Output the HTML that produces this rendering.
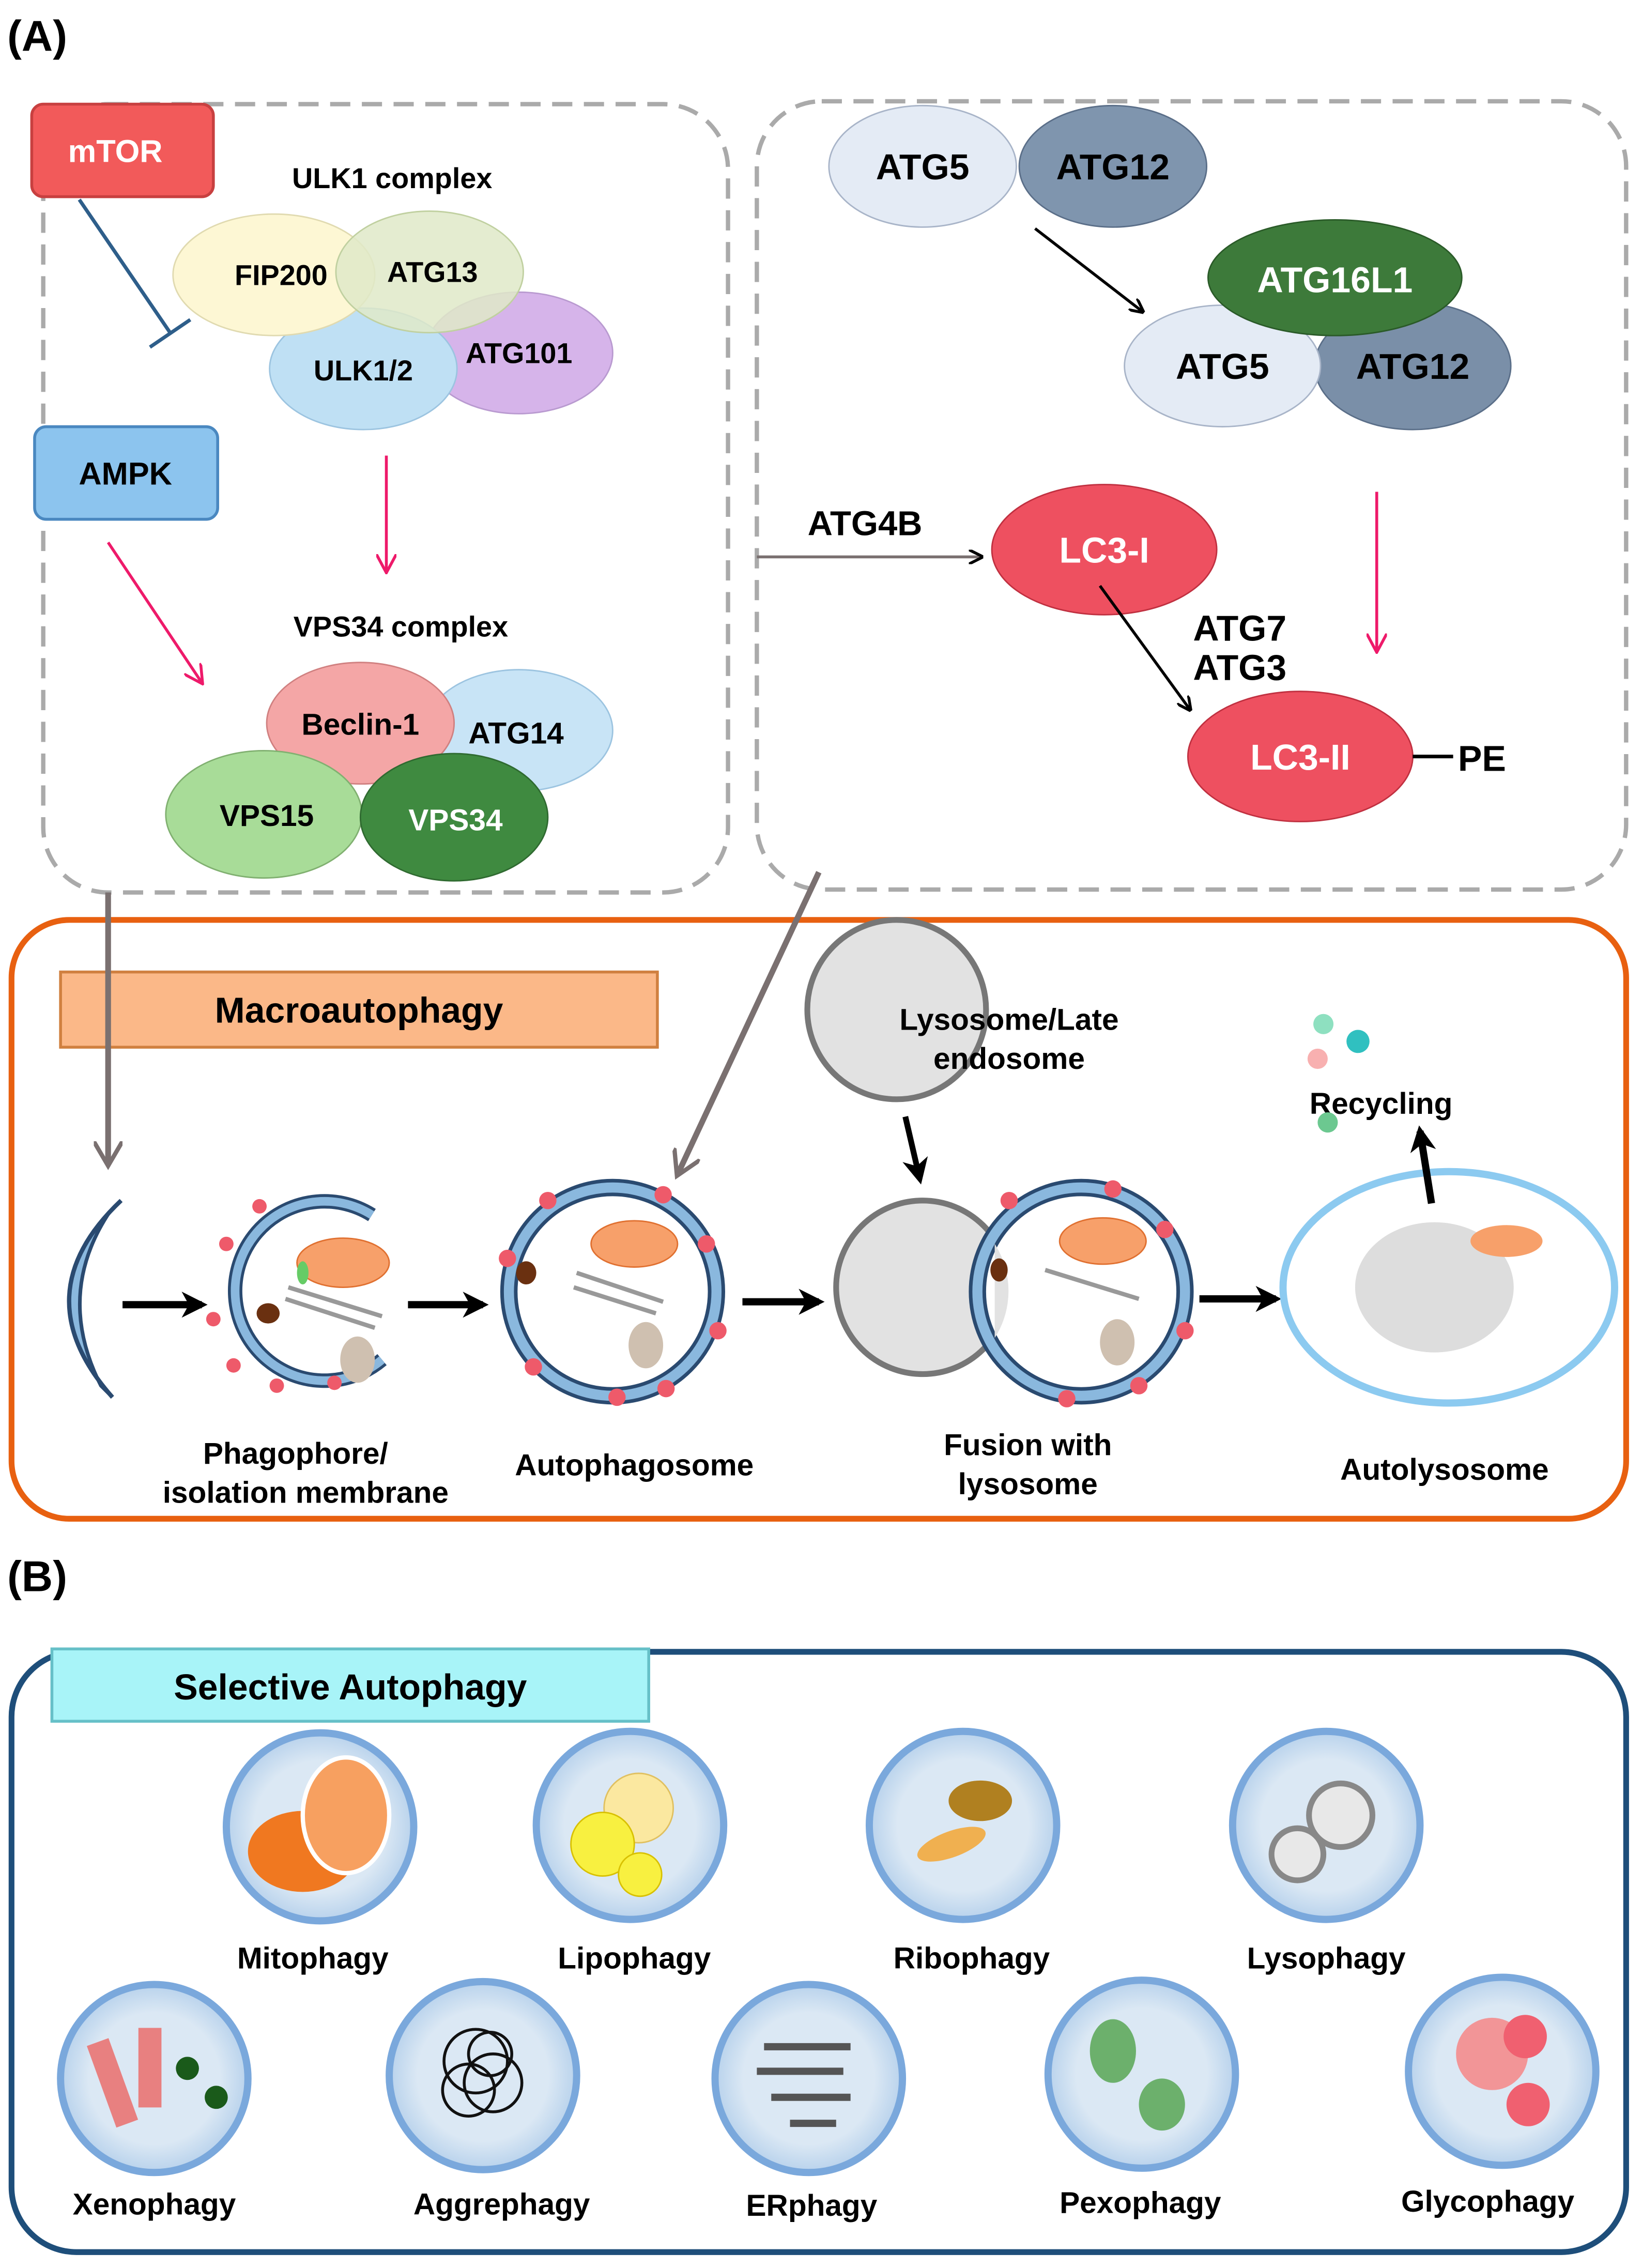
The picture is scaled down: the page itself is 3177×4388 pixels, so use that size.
<!DOCTYPE html>
<html><head><meta charset="utf-8"><style>
html,body{margin:0;padding:0;background:#fff}
svg{display:block}
text{font-family:"Liberation Sans",sans-serif;font-weight:bold}
</style></head><body>
<svg width="3177" height="4388" viewBox="0 0 1139 1568" preserveAspectRatio="none" xmlns="http://www.w3.org/2000/svg">
<defs>
<marker id="ab" markerWidth="10" markerHeight="10" refX="8" refY="5" orient="auto" markerUnits="userSpaceOnUse"><path d="M0,0 L10,5 L0,10" fill="none" stroke="#000" stroke-width="2"/></marker>
<marker id="ap" markerWidth="14" markerHeight="14" refX="12" refY="7" orient="auto" markerUnits="userSpaceOnUse"><path d="M0,0 L13,7 L0,14" fill="none" stroke="#ee1a6a" stroke-width="2"/></marker>
<marker id="ag" markerWidth="20" markerHeight="20" refX="16" refY="10" orient="auto" markerUnits="userSpaceOnUse"><path d="M0,0 L17,10 L0,20" fill="none" stroke="#7a7070" stroke-width="3"/></marker>
<marker id="ak" markerWidth="20" markerHeight="20" refX="14" refY="10" orient="auto" markerUnits="userSpaceOnUse"><path d="M0,1 L18,10 L0,19 L5,10 Z" fill="#000"/></marker>
<radialGradient id="cg" cx="50%" cy="50%" r="50%"><stop offset="0.7" stop-color="#dbe8f4"/><stop offset="1" stop-color="#b8d2ec"/></radialGradient>
</defs>

<text x="5" y="35" font-size="30">(A)</text>

<rect x="30" y="72" width="475" height="545" rx="45" fill="none" stroke="#aaa" stroke-width="3" stroke-dasharray="14,8"/>
<rect x="525" y="70" width="603" height="545" rx="45" fill="none" stroke="#aaa" stroke-width="3" stroke-dasharray="14,8"/>

<rect x="22" y="72" width="126" height="64" rx="8" fill="#f25a5a" stroke="#c84040" stroke-width="2"/>
<text x="80" y="112" font-size="22" fill="#fff" text-anchor="middle">mTOR</text>
<rect x="24" y="295" width="127" height="64" rx="8" fill="#8cc4ee" stroke="#4a88c0" stroke-width="2"/>
<text x="87" y="335" font-size="22" text-anchor="middle">AMPK</text>

<text x="272" y="130" font-size="20" text-anchor="middle">ULK1 complex</text>
<ellipse cx="360" cy="244" rx="65" ry="42" fill="#d6b4ea" stroke="#b99ad0"/>
<ellipse cx="252" cy="255" rx="65" ry="42" fill="#bfe0f4" stroke="#9cc4e0"/>
<ellipse cx="190" cy="190" rx="70" ry="42" fill="#fdf7d4" stroke="#e0dab0"/>
<ellipse cx="298" cy="188" rx="65" ry="42" fill="#dfe9c8" fill-opacity="0.85" stroke="#c0d0a0"/>
<text x="195" y="197" font-size="20" text-anchor="middle">FIP200</text>
<text x="300" y="195" font-size="20" text-anchor="middle">ATG13</text>
<text x="360" y="251" font-size="20" text-anchor="middle">ATG101</text>
<text x="252" y="263" font-size="20" text-anchor="middle">ULK1/2</text>

<line x1="55" y1="138" x2="118" y2="230" stroke="#2e5e8a" stroke-width="2.5"/>
<line x1="104" y1="240" x2="132" y2="221" stroke="#2e5e8a" stroke-width="2.5"/>
<line x1="268" y1="315" x2="268" y2="395" stroke="#ee1a6a" stroke-width="2" marker-end="url(#ap)"/>
<line x1="75" y1="375" x2="140" y2="472" stroke="#ee1a6a" stroke-width="2" marker-end="url(#ap)"/>

<text x="278" y="440" font-size="20" text-anchor="middle">VPS34 complex</text>
<ellipse cx="360" cy="505" rx="65" ry="42" fill="#c8e4f6" stroke="#9cc4e0"/>
<ellipse cx="250" cy="500" rx="65" ry="42" fill="#f4a6a6" stroke="#d08080"/>
<ellipse cx="183" cy="563" rx="68" ry="44" fill="#a8dc98" stroke="#80b070"/>
<ellipse cx="315" cy="565" rx="65" ry="44" fill="#3f8a40" stroke="#2f6a30"/>
<text x="250" y="508" font-size="21" text-anchor="middle">Beclin-1</text>
<text x="358" y="514" font-size="21" text-anchor="middle">ATG14</text>
<text x="185" y="571" font-size="21" text-anchor="middle">VPS15</text>
<text x="316" y="574" font-size="21" fill="#fff" text-anchor="middle">VPS34</text>

<ellipse cx="772" cy="115" rx="65" ry="42" fill="#7f95ae" stroke="#5a6e88"/>
<ellipse cx="640" cy="115" rx="65" ry="42" fill="#e4ebf5" stroke="#a8b4c8"/>
<text x="640" y="124" font-size="25" text-anchor="middle">ATG5</text>
<text x="772" y="124" font-size="25" text-anchor="middle">ATG12</text>
<line x1="718" y1="158" x2="792" y2="215" stroke="#000" stroke-width="2" marker-end="url(#ab)"/>
<ellipse cx="980" cy="253" rx="68" ry="44" fill="#7a8fa8" stroke="#5a6e88"/>
<ellipse cx="848" cy="253" rx="68" ry="42" fill="#e4ebf5" stroke="#a8b4c8"/>
<ellipse cx="926" cy="192" rx="88" ry="40" fill="#3d7a3a" stroke="#2a5a28"/>
<text x="926" y="202" font-size="25" fill="#fff" text-anchor="middle">ATG16L1</text>
<text x="848" y="262" font-size="25" text-anchor="middle">ATG5</text>
<text x="980" y="262" font-size="25" text-anchor="middle">ATG12</text>
<line x1="955" y1="340" x2="955" y2="450" stroke="#ee1a6a" stroke-width="2" marker-end="url(#ap)"/>

<text x="600" y="370" font-size="24" text-anchor="middle">ATG4B</text>
<line x1="525" y1="385" x2="680" y2="385" stroke="#7a7070" stroke-width="2" marker-end="url(#ab)"/>
<ellipse cx="766" cy="380" rx="78" ry="45" fill="#ee5060" stroke="#c03040"/>
<text x="766" y="389" font-size="25" fill="#fff" text-anchor="middle">LC3-I</text>
<line x1="763" y1="405" x2="825" y2="490" stroke="#000" stroke-width="2" marker-end="url(#ab)"/>
<text x="860" y="443" font-size="25" text-anchor="middle">ATG7</text>
<text x="860" y="470" font-size="25" text-anchor="middle">ATG3</text>
<ellipse cx="902" cy="523" rx="78" ry="45" fill="#ee5060" stroke="#c03040"/>
<text x="902" y="532" font-size="25" fill="#fff" text-anchor="middle">LC3-II</text>
<line x1="980" y1="523" x2="1008" y2="523" stroke="#000" stroke-width="2.5"/>
<text x="1028" y="533" font-size="25" text-anchor="middle">PE</text>

<rect x="8" y="636" width="1120" height="414" rx="40" fill="none" stroke="#e86010" stroke-width="4"/>
<rect x="42" y="672" width="414" height="52" fill="#fbb888" stroke="#d08040" stroke-width="2"/>
<text x="249" y="707" font-size="25" text-anchor="middle">Macroautophagy</text>

<line x1="75" y1="617" x2="75" y2="805" stroke="#7a7070" stroke-width="4" marker-end="url(#ag)"/>
<line x1="568" y1="603" x2="470" y2="812" stroke="#7a7070" stroke-width="4" marker-end="url(#ag)"/>

<circle cx="622" cy="698" r="62" fill="#e2e2e2" stroke="#777" stroke-width="4"/>
<text x="700" y="712" font-size="21" text-anchor="middle">Lysosome/Late</text>
<text x="700" y="739" font-size="21" text-anchor="middle">endosome</text>
<line x1="628" y1="772" x2="638" y2="815" stroke="#000" stroke-width="4" marker-end="url(#ak)"/>

<!-- phagophore crescent -->
<path d="M84,830 Q15,895 78,966 L70,958 Q38,895 76,838 Z" fill="#8ab8de" stroke="#2a4a70" stroke-width="2.5"/>
<path d="M84,830 Q15,895 78,966" fill="none" stroke="#2a4a70" stroke-width="3"/>
<line x1="85" y1="902" x2="140" y2="902" stroke="#000" stroke-width="5" marker-end="url(#ak)"/>
<!-- phagophore -->
<path d="M258,840 A62,62 0 1 0 265,940" fill="none" stroke="#2a4a70" stroke-width="10"/>
<path d="M258,840 A62,62 0 1 0 265,940" fill="none" stroke="#8ab8de" stroke-width="6"/>
<g fill="#ee5a6a"><circle cx="180" cy="834" r="5"/><circle cx="157" cy="860" r="5"/><circle cx="148" cy="912" r="5"/><circle cx="162" cy="944" r="5"/><circle cx="192" cy="958" r="5"/><circle cx="232" cy="956" r="5"/></g>
<ellipse cx="238" cy="873" rx="32" ry="17" fill="#f7a06a" stroke="#e07030"/>
<g stroke="#999" stroke-width="3"><line x1="200" y1="890" x2="265" y2="910"/><line x1="198" y1="898" x2="260" y2="918"/></g>
<ellipse cx="186" cy="908" rx="8" ry="7" fill="#6a3010"/><ellipse cx="210" cy="880" rx="4" ry="8" fill="#6c6"/>
<ellipse cx="248" cy="940" rx="12" ry="16" fill="#cfc0b0"/>
<line x1="283" y1="902" x2="335" y2="902" stroke="#000" stroke-width="5" marker-end="url(#ak)"/>
<!-- autophagosome -->
<circle cx="425" cy="893" r="72" fill="#fff" stroke="#2a4a70" stroke-width="12"/>
<circle cx="425" cy="893" r="72" fill="none" stroke="#8ab8de" stroke-width="7"/>
<g fill="#ee5a6a"><circle cx="380" cy="830" r="6"/><circle cx="460" cy="826" r="6"/><circle cx="490" cy="860" r="6"/><circle cx="498" cy="920" r="6"/><circle cx="462" cy="960" r="6"/><circle cx="428" cy="966" r="6"/><circle cx="370" cy="945" r="6"/><circle cx="352" cy="870" r="6"/></g>
<ellipse cx="440" cy="860" rx="30" ry="16" fill="#f7a06a" stroke="#e07030"/>
<g stroke="#999" stroke-width="3"><line x1="400" y1="880" x2="460" y2="900"/><line x1="398" y1="890" x2="455" y2="908"/></g>
<ellipse cx="365" cy="880" rx="7" ry="8" fill="#6a3010"/><ellipse cx="448" cy="930" rx="12" ry="16" fill="#cfc0b0"/>
<line x1="515" y1="900" x2="568" y2="900" stroke="#000" stroke-width="5" marker-end="url(#ak)"/>
<!-- fusion -->
<circle cx="640" cy="890" r="60" fill="#e2e2e2" stroke="#777" stroke-width="4"/>
<circle cx="750" cy="893" r="72" fill="#fff" stroke="#2a4a70" stroke-width="12"/>
<circle cx="750" cy="893" r="72" fill="none" stroke="#8ab8de" stroke-width="7"/>
<path d="M690,860 A60,60 0 0 1 690,925 Z" fill="#e2e2e2"/>
<g fill="#ee5a6a"><circle cx="700" cy="830" r="6"/><circle cx="772" cy="822" r="6"/><circle cx="808" cy="850" r="6"/><circle cx="822" cy="920" r="6"/><circle cx="790" cy="958" r="6"/><circle cx="740" cy="967" r="6"/></g>
<ellipse cx="765" cy="858" rx="30" ry="16" fill="#f7a06a" stroke="#e07030"/>
<g stroke="#999" stroke-width="3"><line x1="725" y1="878" x2="790" y2="898"/></g>
<ellipse cx="693" cy="878" rx="6" ry="8" fill="#6a3010"/><ellipse cx="775" cy="928" rx="12" ry="16" fill="#cfc0b0"/>
<line x1="832" y1="898" x2="885" y2="898" stroke="#000" stroke-width="5" marker-end="url(#ak)"/>
<!-- autolysosome -->
<ellipse cx="1005" cy="890" rx="115" ry="80" fill="#fff" stroke="#8ccaf0" stroke-width="5"/>
<ellipse cx="995" cy="890" rx="55" ry="45" fill="#ddd"/>
<ellipse cx="1045" cy="858" rx="25" ry="11" fill="#f7a06a"/>
<line x1="993" y1="832" x2="985" y2="782" stroke="#000" stroke-width="5" marker-end="url(#ak)"/>
<text x="958" y="770" font-size="21" text-anchor="middle">Recycling</text>
<circle cx="918" cy="708" r="7" fill="#8ee0c0"/><circle cx="942" cy="720" r="8" fill="#30c0c0"/><circle cx="914" cy="732" r="7" fill="#f8b0b0"/><circle cx="921" cy="776" r="7" fill="#6cc890"/>

<text x="205" y="1012" font-size="21" text-anchor="middle">Phagophore/</text>
<text x="212" y="1039" font-size="21" text-anchor="middle">isolation membrane</text>
<text x="440" y="1020" font-size="21" text-anchor="middle">Autophagosome</text>
<text x="713" y="1006" font-size="21" text-anchor="middle">Fusion with</text>
<text x="713" y="1033" font-size="21" text-anchor="middle">lysosome</text>
<text x="1002" y="1023" font-size="21" text-anchor="middle">Autolysosome</text>

<text x="5" y="1100" font-size="30">(B)</text>
<rect x="8" y="1142" width="1120" height="415" rx="45" fill="none" stroke="#1e4e7a" stroke-width="4"/>
<rect x="36" y="1140" width="414" height="50" fill="#a8f4f8" stroke="#66c0c8" stroke-width="2"/>
<text x="243" y="1175" font-size="25" text-anchor="middle">Selective Autophagy</text>

<g fill="url(#cg)" stroke="#7aa8dc" stroke-width="5">
<circle cx="222" cy="1263" r="65"/><circle cx="437" cy="1262" r="65"/><circle cx="668" cy="1262" r="65"/><circle cx="920" cy="1262" r="65"/>
<circle cx="107" cy="1437" r="65"/><circle cx="335" cy="1435" r="65"/><circle cx="561" cy="1437" r="65"/><circle cx="792" cy="1434" r="65"/><circle cx="1042" cy="1432" r="65"/>
</g>
<ellipse cx="210" cy="1280" rx="38" ry="28" fill="#f07820"/><ellipse cx="240" cy="1255" rx="30" ry="40" fill="#f7a060" stroke="#fff" stroke-width="3"/>
<circle cx="443" cy="1250" r="24" fill="#fbe8a0" stroke="#e0c060"/><circle cx="418" cy="1275" r="22" fill="#f8f040" stroke="#d8c000"/><circle cx="444" cy="1296" r="15" fill="#f8f040" stroke="#d8c000"/>
<ellipse cx="680" cy="1245" rx="22" ry="14" fill="#b08020"/><ellipse cx="660" cy="1275" rx="25" ry="9" fill="#f0b050" transform="rotate(-20 660 1275)"/>
<circle cx="930" cy="1255" r="22" fill="#e8e8e8" stroke="#888" stroke-width="4"/><circle cx="900" cy="1282" r="18" fill="#e8e8e8" stroke="#888" stroke-width="4"/>
<rect x="70" y="1410" width="16" height="60" fill="#e88080" transform="rotate(-20 78 1440)"/><rect x="96" y="1402" width="16" height="55" fill="#e88080"/>
<circle cx="130" cy="1430" r="8" fill="#1a5a1a"/><circle cx="150" cy="1450" r="8" fill="#1a5a1a"/>
<g fill="none" stroke="#111" stroke-width="2"><circle cx="330" cy="1425" r="22"/><circle cx="342" cy="1440" r="20"/><circle cx="325" cy="1445" r="18"/><circle cx="340" cy="1420" r="15"/></g>
<g stroke="#555" stroke-width="5"><line x1="530" y1="1415" x2="590" y2="1415"/><line x1="525" y1="1432" x2="585" y2="1432"/><line x1="535" y1="1450" x2="590" y2="1450"/><line x1="548" y1="1468" x2="580" y2="1468"/></g>
<ellipse cx="772" cy="1418" rx="16" ry="22" fill="#6cb06c"/><ellipse cx="806" cy="1455" rx="16" ry="18" fill="#6cb06c"/>
<circle cx="1035" cy="1420" r="25" fill="#f88080" opacity="0.8"/><circle cx="1058" cy="1408" r="15" fill="#f06070"/><circle cx="1060" cy="1455" r="15" fill="#f06070"/>

<g font-size="21" text-anchor="middle">
<text x="217" y="1361">Mitophagy</text><text x="440" y="1361">Lipophagy</text><text x="674" y="1361">Ribophagy</text><text x="920" y="1361">Lysophagy</text>
<text x="107" y="1531">Xenophagy</text><text x="348" y="1531">Aggrephagy</text><text x="563" y="1532">ERphagy</text><text x="791" y="1530">Pexophagy</text><text x="1032" y="1529">Glycophagy</text>
</g>
</svg>
</body></html>
